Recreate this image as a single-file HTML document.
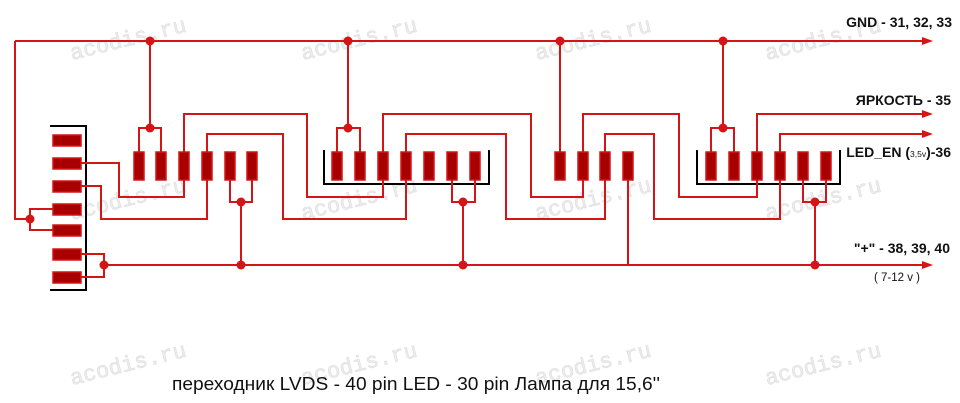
<!DOCTYPE html>
<html><head><meta charset="utf-8"><style>
html,body{margin:0;padding:0;background:#fff;}
svg{display:block;}
</style></head><body>
<svg width="960" height="403" viewBox="0 0 960 403" xmlns="http://www.w3.org/2000/svg">
<g font-family="Liberation Mono, monospace" font-size="22" fill="#ececec" stroke="#dedede" stroke-width="0.6">
<text transform="translate(72,60) rotate(-14)">acodis.ru</text>
<text transform="translate(303,60) rotate(-14)">acodis.ru</text>
<text transform="translate(537,60) rotate(-14)">acodis.ru</text>
<text transform="translate(767,60) rotate(-14)">acodis.ru</text>
<text transform="translate(72,220) rotate(-14)">acodis.ru</text>
<text transform="translate(303,220) rotate(-14)">acodis.ru</text>
<text transform="translate(537,220) rotate(-14)">acodis.ru</text>
<text transform="translate(767,220) rotate(-14)">acodis.ru</text>
<text transform="translate(72,385) rotate(-14)">acodis.ru</text>
<text transform="translate(303,385) rotate(-14)">acodis.ru</text>
<text transform="translate(537,385) rotate(-14)">acodis.ru</text>
<text transform="translate(767,385) rotate(-14)">acodis.ru</text>
</g>
<g fill="none" stroke="#000" stroke-width="2">
<polyline points="50,126 86,126 86,290 50,290"/>
<polyline points="324,150 324,184 489,184 489,150"/>
<polyline points="697,150 697,184 840,184 840,150"/>
</g>
<g fill="none" stroke="#d41515" stroke-width="2">
<line x1="15" y1="41" x2="926" y2="41"/>
<polyline points="15,41 15,219 30,219"/>
<polyline points="53,209 30,209 30,230 53,230"/>
<polyline points="53,254 104,254 104,277 53,277"/>
<line x1="104" y1="265" x2="926" y2="265"/>
<polyline points="81,163 119,163 119,197 184,197 184,166"/>
<polyline points="81,186 101,186 101,219 207,219 207,166"/>
<polyline points="139,152 139,128 161,128 161,152"/>
<line x1="150" y1="41" x2="150" y2="128"/>
<polyline points="184,152 184,114 307,114 307,197 383,197 383,166"/>
<polyline points="207,152 207,134 283,134 283,219 406,219 406,166"/>
<polyline points="230,166 230,202 252,202 252,166"/>
<line x1="241" y1="202" x2="241" y2="265"/>
<polyline points="337,152 337,128 360,128 360,152"/>
<line x1="348" y1="41" x2="348" y2="128"/>
<polyline points="383,152 383,114 531,114 531,197 583,197 583,166"/>
<polyline points="406,152 406,134 506,134 506,219 605,219 605,166"/>
<polyline points="452,166 452,202 475,202 475,166"/>
<line x1="463" y1="202" x2="463" y2="265"/>
<line x1="560" y1="41" x2="560" y2="160"/>
<line x1="628" y1="166" x2="628" y2="265"/>
<polyline points="583,152 583,114 679,114 679,197 757,197 757,166"/>
<polyline points="605,152 605,134 654,134 654,219 780,219 780,166"/>
<polyline points="711,152 711,128 734,128 734,152"/>
<line x1="723" y1="41" x2="723" y2="128"/>
<polyline points="757,152 757,114 926,114"/>
<polyline points="780,152 780,134 926,134"/>
<polyline points="803,166 803,202 826,202 826,166"/>
<line x1="815" y1="202" x2="815" y2="265"/>
</g>
<g fill="#d41515">
<polygon points="922,37 933,41 922,45"/>
<polygon points="922,110 933,114 922,118"/>
<polygon points="922,130 933,134 922,138"/>
<polygon points="922,261 933,265 922,269"/>
<circle cx="30" cy="219" r="4.5"/><circle cx="104" cy="265" r="4.5"/>
<circle cx="150" cy="41" r="4.5"/><circle cx="150" cy="128" r="4.5"/>
<circle cx="241" cy="202" r="4.5"/><circle cx="241" cy="265" r="4.5"/>
<circle cx="348" cy="41" r="4.5"/><circle cx="348" cy="128" r="4.5"/>
<circle cx="463" cy="202" r="4.5"/><circle cx="463" cy="265" r="4.5"/>
<circle cx="560" cy="41" r="4.5"/>
<circle cx="723" cy="41" r="4.5"/><circle cx="723" cy="128" r="4.5"/>
<circle cx="815" cy="202" r="4.5"/><circle cx="815" cy="265" r="4.5"/>
</g>
<g fill="#a80000" stroke="#d41515" stroke-width="1.5">
<rect x="53" y="135" width="28" height="11"/><rect x="53" y="158" width="28" height="11"/>
<rect x="53" y="181" width="28" height="11"/><rect x="53" y="204" width="28" height="11"/>
<rect x="53" y="225" width="28" height="11"/><rect x="53" y="249" width="28" height="11"/>
<rect x="53" y="272" width="28" height="11"/>
<rect x="134" y="152" width="10" height="28"/><rect x="156" y="152" width="10" height="28"/>
<rect x="179" y="152" width="10" height="28"/><rect x="202" y="152" width="10" height="28"/>
<rect x="225" y="152" width="10" height="28"/><rect x="247" y="152" width="10" height="28"/>
<rect x="332" y="152" width="10" height="28"/><rect x="355" y="152" width="10" height="28"/>
<rect x="378" y="152" width="10" height="28"/><rect x="401" y="152" width="10" height="28"/>
<rect x="424" y="152" width="10" height="28"/><rect x="447" y="152" width="10" height="28"/>
<rect x="470" y="152" width="10" height="28"/>
<rect x="555" y="152" width="10" height="28"/><rect x="578" y="152" width="10" height="28"/>
<rect x="600" y="152" width="10" height="28"/><rect x="623" y="152" width="10" height="28"/>
<rect x="706" y="152" width="10" height="28"/><rect x="729" y="152" width="10" height="28"/>
<rect x="752" y="152" width="10" height="28"/><rect x="775" y="152" width="10" height="28"/>
<rect x="798" y="152" width="10" height="28"/><rect x="821" y="152" width="10" height="28"/>
</g>
<g font-family="Liberation Sans, sans-serif" font-weight="bold" font-size="14" fill="#111" text-anchor="end">
<text x="952" y="27">GND - 31, 32, 33</text>
<text x="951" y="105">ЯРКОСТЬ - 35</text>
<text x="951" y="157">LED_EN (<tspan font-size="8.5" font-weight="normal">3,5v</tspan>)-36</text>
<text x="950" y="253">"+" - 38, 39, 40</text>
</g>
<text x="874" y="281" font-family="Liberation Sans, sans-serif" font-size="11.5" fill="#111">( 7-12 v )</text>
<text x="172" y="390" font-family="Liberation Sans, sans-serif" font-size="18" textLength="488" lengthAdjust="spacingAndGlyphs" fill="#111">переходник LVDS - 40 pin LED - 30 pin Лампа для 15,6''</text>
</svg>
</body></html>
